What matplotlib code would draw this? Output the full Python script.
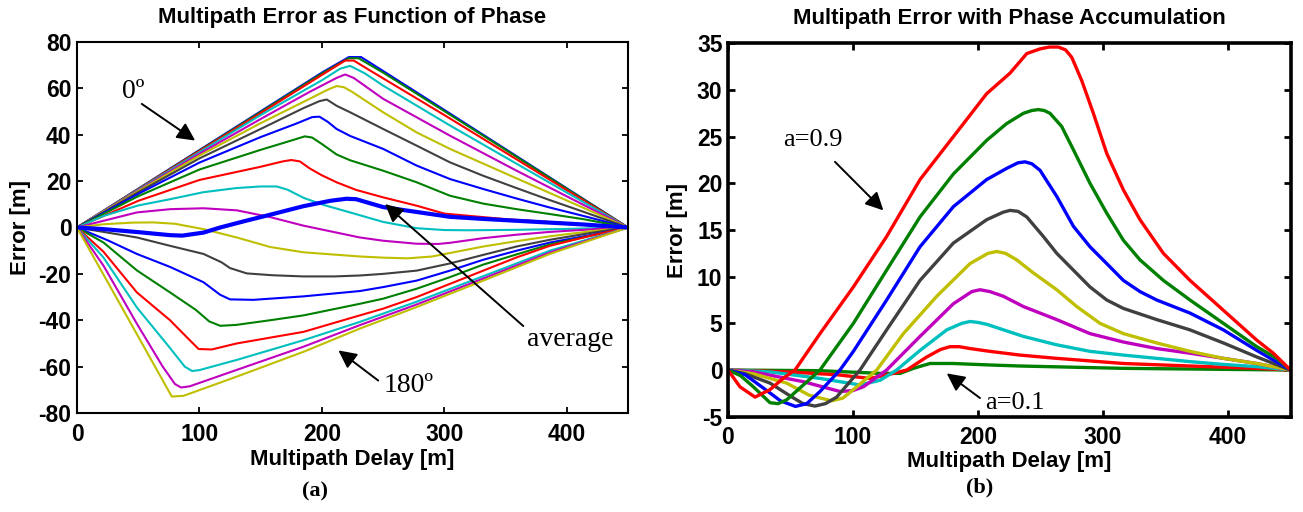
import matplotlib
matplotlib.use("Agg")
import matplotlib.pyplot as plt

plt.rcParams['axes.unicode_minus'] = False

# ---------------- colours (MATLAB classic order) ----------------
C_B = '#0000ff'
C_G = '#008000'
C_R = '#ff0000'
C_C = '#00bfbf'
C_M = '#bf00bf'
C_Y = '#bfbf00'
C_K = '#404040'

# ---------------- (a) Multipath error as function of phase ----------------
ph01_x = [0, 50, 100, 150, 200, 222, 232, 250, 300, 350, 400, 450]
ph01_y = [0, 16.7, 33.4, 50.1, 66.8, 73.5, 73.5, 67.5, 50.7, 33.8, 16.9, 0]
ph02_x = [0, 50, 100, 150, 200, 222, 230, 250, 300, 350, 400, 450]
ph02_y = [0, 16.6, 33.2, 49.8, 66.4, 73.0, 73.0, 66.8, 50.2, 33.5, 16.7, 0]
ph03_x = [0, 50, 100, 150, 200, 219, 226, 240, 300, 350, 400, 450]
ph03_y = [0, 16.5, 33.0, 49.3, 65.8, 72.0, 72.0, 67.5, 48.5, 32.3, 16.1, 0]
ph04_x = [0, 50, 100, 150, 200, 215, 223, 235, 250, 304.6, 359, 413.5, 450]
ph04_y = [0, 16.3, 32.5, 48.5, 63.5, 68.5, 69.7, 66.5, 61.2, 44.0, 27.5, 11.0, 0]
ph05_x = [0, 50, 100, 150, 190, 212, 219, 226, 250, 304.6, 359, 413.5, 450]
ph05_y = [0, 16.0, 31.8, 46.8, 58.5, 64.5, 66.0, 64.5, 55.5, 39.6, 24.5, 9.8, 0]
ph06_x = [0, 50, 100, 150, 190, 205, 212, 218, 225, 250, 277.4, 304.6, 359, 413.5, 450]
ph06_y = [0, 15.7, 31.0, 45.0, 55.5, 59.5, 61.0, 60.5, 58.4, 49.7, 41.0, 33.9, 21.2, 8.5, 0]
ph07_x = [0, 50, 100, 150, 185, 198, 204, 212, 223, 250, 277.4, 304.6, 331.8, 359, 386.2, 413.5, 450]
ph07_y = [0, 15.2, 29.8, 42.5, 51.5, 54.5, 55.2, 52.5, 49.7, 42.5, 35.3, 28.1, 22.3, 17.0, 11.8, 6.8, 0]
ph08_x = [0, 50, 100, 150, 180, 192, 198, 205, 212, 223, 250, 277.4, 304.6, 331.8, 359, 386.2, 413.5, 450]
ph08_y = [0, 14.5, 28.0, 39.0, 45.0, 47.6, 47.8, 45.5, 42.5, 39.5, 33.9, 26.7, 20.9, 16.6, 12.5, 8.6, 5.0, 0]
ph09_x = [0, 50, 100, 150, 175, 186, 192, 200, 212, 223, 250, 277.4, 304.6, 331.8, 359, 386.2, 413.5, 450]
ph09_y = [0, 13.5, 25.0, 33.5, 37.5, 39.3, 38.8, 36.0, 31.5, 29.0, 24.5, 19.5, 13.7, 10.3, 7.9, 5.8, 3.6, 0]
ph10_x = [0, 50, 100, 150, 168, 175, 182, 190, 200, 212, 228, 250, 277.4, 300, 350, 400, 450]
ph10_y = [0, 11.5, 20.5, 26.2, 28.5, 29.1, 28.5, 25.5, 22.5, 19.5, 16.2, 13.0, 9.4, 6.0, 3.6, 1.9, 0]
ph11_x = [0, 21.7, 50, 76, 103, 130, 150, 163, 172, 185, 201, 223, 250, 277.4, 300, 320, 359, 400, 450]
ph11_y = [0, 5.0, 9.5, 12.2, 15.2, 17.0, 17.7, 17.7, 16.3, 12.8, 9.8, 6.5, 2.4, -0.3, -1.1, -1.2, -1.0, -0.6, 0]
ph12_x = [0, 21.7, 48.9, 76, 103.3, 130.5, 157.7, 184.9, 212, 231, 250, 277.4, 295, 304.6, 331.8, 359, 386.2, 420, 450]
ph12_y = [0, 2.9, 6.5, 7.9, 8.3, 7.4, 4.5, 0.8, -2.2, -4.3, -5.7, -7.0, -7.1, -6.6, -4.6, -3.1, -1.9, -0.8, 0]
ph13_x = [0, 21.7, 45, 62.5, 80, 103.3, 130.5, 157.7, 185, 231, 250, 270, 290, 304.6, 331.8, 359, 386.2, 420, 450]
ph13_y = [0, 1.4, 2.1, 2.2, 1.6, -0.7, -4.3, -8.4, -10.7, -12.5, -13.0, -13.3, -12.5, -11.0, -8.2, -5.9, -3.8, -1.6, 0]
ph14_x = [0, 48.9, 76, 103.3, 118, 125, 138.7, 160, 185, 210, 231, 250, 277.4, 304.6, 331.8, 359, 386.2, 420, 450]
ph14_y = [0, -4.3, -7.9, -11.4, -15.0, -17.5, -19.8, -20.6, -21.1, -21.1, -20.7, -20.0, -18.6, -15.5, -11.8, -8.2, -5.3, -2.3, 0]
ph15_x = [0, 25, 48.9, 76, 103.3, 116.9, 125, 144, 185, 231, 250, 277.4, 304.6, 331.8, 359, 386.2, 420, 450]
ph15_y = [0, -5.5, -11.4, -17.0, -23.6, -29.0, -31.0, -31.2, -29.7, -27.4, -25.7, -22.9, -18.6, -13.9, -10.0, -6.5, -3.2, 0]
ph16_x = [0, 21.7, 48.9, 76, 97, 108, 117, 130, 157.7, 185, 231, 250, 277.4, 304.6, 331.8, 359, 386.2, 420, 450]
ph16_y = [0, -6.5, -18.5, -28.0, -35.5, -40.5, -42.4, -42.0, -40.0, -37.9, -32.9, -30.7, -26.4, -21.4, -16.0, -11.6, -7.3, -3.5, 0]
ph17_x = [0, 21.7, 48.9, 76, 90, 99.3, 110, 130.5, 185, 231, 250, 277.4, 304.6, 331.8, 359, 386.2, 420, 450]
ph17_y = [0, -10.5, -28.0, -40.0, -47.5, -52.4, -52.6, -50.0, -45.0, -37.9, -35.0, -30.0, -24.3, -18.6, -12.9, -7.9, -3.5, 0]
ph18_x = [0, 21.7, 48.9, 76, 88, 94, 100, 130.5, 185, 231, 277.4, 331.8, 386.2, 450]
ph18_y = [0, -13.0, -34.5, -52.0, -60.0, -61.9, -61.5, -57.1, -48.6, -40.7, -32.0, -21.0, -10.0, 0]
ph19_x = [0, 21.7, 48.9, 70, 80, 85, 92, 130.5, 185, 231, 277.4, 331.8, 386.2, 450]
ph19_y = [0, -16.5, -41.5, -60.0, -67.5, -69.0, -68.5, -61.4, -51.4, -42.1, -33.2, -22.0, -10.8, 0]
ph20_x = [0, 21.7, 48.9, 77.4, 87, 130.5, 185, 231, 277.4, 331.8, 386.2, 450]
ph20_y = [0, -20.4, -46.0, -72.9, -72.6, -64.3, -53.6, -43.6, -34.3, -22.9, -11.4, 0]
avg_x = [0, 21.7, 50, 76, 86, 103.3, 116.9, 138.7, 157.7, 185, 206.7, 220, 228, 250, 277.4, 304.6, 331.8, 359, 386.2, 413.5, 450]
avg_y = [0, -0.7, -2.0, -3.3, -3.5, -2.2, 0, 3.0, 5.5, 9.2, 11.5, 12.4, 12.2, 8.8, 6.7, 4.6, 3.7, 2.9, 2.1, 1.3, 0]

phase_x = [ph01_x, ph02_x, ph03_x, ph04_x, ph05_x, ph06_x, ph07_x, ph08_x, ph09_x, ph10_x,
           ph11_x, ph12_x, ph13_x, ph14_x, ph15_x, ph16_x, ph17_x, ph18_x, ph19_x, ph20_x]
phase_y = [ph01_y, ph02_y, ph03_y, ph04_y, ph05_y, ph06_y, ph07_y, ph08_y, ph09_y, ph10_y,
           ph11_y, ph12_y, ph13_y, ph14_y, ph15_y, ph16_y, ph17_y, ph18_y, ph19_y, ph20_y]
left_cycle = [C_B, C_G, C_R, C_C, C_M, C_Y, C_K]

left_xticks = [0, 100, 200, 300, 400]
left_yticks = [-80, -60, -40, -20, 0, 20, 40, 60, 80]

# ---------------- (b) Multipath error with phase accumulation ----------------
a09_x = [0, 9.6, 21.6, 33.6, 45, 53.6, 73.6, 100.3, 126.9, 153.6, 180.3, 206.9, 225.6, 239, 249.6, 257, 264.3, 270, 275, 283, 292.3, 303, 316.3, 329.6, 348.3, 369.6, 396.3, 423, 436.3, 450]
a09_y = [0, -1.8, -2.9, -2.1, -0.8, 0, 3.9, 8.9, 14.3, 20.4, 25.0, 29.6, 31.8, 33.9, 34.4, 34.6, 34.6, 34.3, 33.5, 31.0, 27.5, 23.2, 19.3, 16.1, 12.5, 9.6, 6.4, 3.2, 1.8, 0]
a08_x = [0, 10, 20.3, 33.6, 40, 46.9, 60.3, 73.6, 100.3, 126.9, 153.6, 180.3, 206.9, 222.9, 236.3, 243, 248.3, 253, 257.6, 266.9, 276.3, 289.6, 303, 316.3, 329.6, 348.3, 369.6, 396.3, 423, 439, 450]
a08_y = [0, -0.6, -1.8, -3.5, -3.6, -3.2, -1.6, 0, 5.0, 10.7, 16.4, 21.0, 24.6, 26.4, 27.5, 27.8, 27.9, 27.8, 27.5, 26.1, 23.6, 20.0, 16.8, 13.9, 11.8, 9.6, 7.5, 5.0, 2.5, 1.25, 0]
a07_x = [0, 13.6, 29, 42, 54, 63, 73.6, 89.6, 100.3, 126.9, 153.6, 180.3, 206.9, 222.9, 232, 237.6, 243, 249.6, 263, 276.3, 289.6, 303, 316.3, 329.6, 343, 369.6, 396.3, 423, 450]
a07_y = [0, -0.5, -2.0, -3.3, -3.9, -3.6, -2.3, 0, 2.0, 7.5, 13.2, 17.5, 20.4, 21.6, 22.2, 22.3, 22.1, 21.4, 18.6, 15.4, 13.2, 11.4, 9.6, 8.4, 7.5, 6.1, 4.3, 2.1, 0]
a06_x = [0, 13.6, 33.6, 50, 60, 69.6, 78, 86.9, 105.6, 126.9, 153.6, 180.3, 206.9, 220, 225.6, 232, 239, 252.3, 263, 276.3, 289.6, 303, 316.3, 343, 369.6, 396.3, 423, 450]
a06_y = [0, -0.4, -1.4, -2.8, -3.6, -3.86, -3.6, -2.9, 0, 4.3, 9.6, 13.6, 16.1, 16.9, 17.1, 17.0, 16.4, 14.3, 12.5, 10.7, 8.9, 7.5, 6.6, 5.4, 4.3, 2.9, 1.4, 0]
a05_x = [0, 20.3, 46.9, 65, 82.9, 92, 100.3, 119, 140.3, 167, 193.6, 208, 215, 222, 231, 244.3, 263, 279, 297.6, 316.3, 343, 369.6, 396.3, 423, 450]
a05_y = [0, -0.4, -1.4, -2.7, -3.3, -3.0, -2.1, 0, 3.9, 7.9, 11.4, 12.5, 12.7, 12.5, 11.8, 10.4, 8.6, 6.8, 5.0, 3.9, 2.9, 2.0, 1.25, 0.7, 0]
a04_x = [0, 20.3, 60.3, 89.6, 100, 108.3, 126.9, 153.6, 180.3, 195, 201.6, 209.6, 220.3, 236.3, 263, 289.6, 316.3, 343, 369.6, 396.3, 423, 450]
a04_y = [0, -0.2, -1.25, -2.3, -2.2, -1.8, 0, 3.6, 7.1, 8.4, 8.6, 8.4, 7.9, 6.8, 5.4, 3.9, 3.0, 2.3, 1.8, 1.25, 0.7, 0]
a03_x = [0, 33.6, 73.6, 105.6, 121.6, 134.9, 153.6, 175, 187, 193.6, 200, 206.9, 236.3, 263, 289.6, 316.3, 343, 369.6, 396.3, 423, 450]
a03_y = [0, -0.2, -0.9, -1.6, -1.1, 0, 2.1, 4.3, 5.0, 5.2, 5.1, 4.9, 3.6, 2.7, 2.0, 1.6, 1.25, 0.9, 0.6, 0.36, 0]
a02_x = [0, 46.9, 86.9, 113.6, 132.3, 143, 159, 170, 177.6, 185, 193.6, 209.6, 233.6, 263, 316.3, 369.6, 423, 450]
a02_y = [0, -0.2, -0.5, -0.9, -0.36, 0, 1.4, 2.2, 2.5, 2.5, 2.3, 2.0, 1.6, 1.25, 0.7, 0.43, 0.18, 0]
a01_x = [0, 73.6, 121.6, 137.6, 148.3, 161.6, 180, 209.6, 233.6, 316.3, 450]
a01_y = [0, -0.07, -0.36, -0.36, 0.18, 0.7, 0.7, 0.54, 0.43, 0.18, 0]

acc_x = [a01_x, a02_x, a03_x, a04_x, a05_x, a06_x, a07_x, a08_x, a09_x]
acc_y = [a01_y, a02_y, a03_y, a04_y, a05_y, a06_y, a07_y, a08_y, a09_y]
right_colors = [C_G, C_R, C_C, C_M, C_Y, C_K, C_B, C_G, C_R]

right_xticks = [0, 100, 200, 300, 400]
right_yticks = [-5, 0, 5, 10, 15, 20, 25, 30, 35]

# ---------------- figure ----------------
W, H = 1303, 512
fig = plt.figure(figsize=(W / 100, H / 100), dpi=100)
SANS = 'Liberation Sans'
SERIF = 'Liberation Serif'

axL = fig.add_axes([77 / W, 1 - 413 / H, 551 / W, 371 / H])
axR = fig.add_axes([728 / W, 1 - 416.7 / H, 562.5 / W, 373.4 / H])

for xs, ys, i in zip(phase_x, phase_y, range(len(phase_x))):
    axL.plot(xs, ys, color=left_cycle[i % 7], lw=1.5, solid_joinstyle='round')
axL.plot(avg_x, avg_y, color=C_B, lw=3.0, solid_joinstyle='round')

for xs, ys, col in zip(acc_x, acc_y, right_colors):
    axR.plot(xs, ys, color=col, lw=2.4, solid_joinstyle='round')

def style(ax, xt, yt, ylim, frame_lw, tick_len, tick_w):
    ax.set_xlim(0, 450)
    ax.set_ylim(*ylim)
    ax.set_xticks(xt)
    ax.set_yticks(yt)
    ax.tick_params(direction='in', top=True, right=True, length=tick_len, width=tick_w,
                   labelsize=16.5, pad=4)
    ax.tick_params(axis='x', pad=7)
    for lab in ax.get_xticklabels() + ax.get_yticklabels():
        lab.set_fontfamily(SANS)
        lab.set_fontweight('bold')
    for sp in ax.spines.values():
        sp.set_linewidth(frame_lw)

style(axL, left_xticks, left_yticks, (-80, 80), 1.5, 4, 1.3)
style(axR, right_xticks, right_yticks, (-5, 35), 2.6, 5, 2.0)

axL.set_title('Multipath Error as Function of Phase', fontsize=16, family=SANS,
              weight='bold', pad=14)
axR.set_title('Multipath Error with Phase Accumulation', fontsize=16, family=SANS,
              weight='bold', pad=14)

for ax, yx, xy in ((axL, -0.103, -0.124), (axR, -0.09, -0.12)):
    ax.set_xlabel('Multipath Delay [m]', fontsize=16, family=SANS, weight='bold')
    ax.set_ylabel('Error [m]', fontsize=16, family=SANS, weight='bold')
    ax.xaxis.label.set_va('center')
    ax.yaxis.label.set_va('center')
    ax.xaxis.set_label_coords(0.5, xy)
    ax.yaxis.set_label_coords(yx, 0.5)

arrow = dict(arrowstyle='-|>', color='k', lw=1.4, mutation_scale=27, shrinkA=0, shrinkB=0)

axL.text(45.5, 58.6, '0º', fontsize=20, family=SERIF, ha='center', va='center')
axL.annotate('', xy=(96.5, 37.5), xytext=(52.9, 53.3), arrowprops=arrow)
axL.text(271, -68, '180º', fontsize=20, family=SERIF, ha='center', va='center')
axL.annotate('', xy=(213.5, -53), xytext=(246, -66), arrowprops=arrow)
axL.text(403, -48.5, 'average', fontsize=20, family=SERIF, ha='center', va='center')
axL.annotate('', xy=(251.6, 10.1), xytext=(364.5, -42.5), arrowprops=arrow)

axR.text(67.6, 24.6, 'a=0.9', fontsize=19, family=SERIF, ha='center', va='center')
axR.annotate('', xy=(124.3, 17.1), xytext=(85.6, 22.3), arrowprops=arrow)
axR.text(229.6, -3.5, 'a=0.1', fontsize=19, family=SERIF, ha='center', va='center')
axR.annotate('', xy=(175, -0.36), xytext=(201.6, -3.0), arrowprops=arrow)

fig.text(315 / W, 1 - 491.7 / H, '(a)', fontsize=16, family=SERIF, weight='bold', ha='center', va='center')
fig.text(979.7 / W, 1 - 487 / H, '(b)', fontsize=16, family=SERIF, weight='bold', ha='center', va='center')

fig.savefig('out.png', dpi=100)
